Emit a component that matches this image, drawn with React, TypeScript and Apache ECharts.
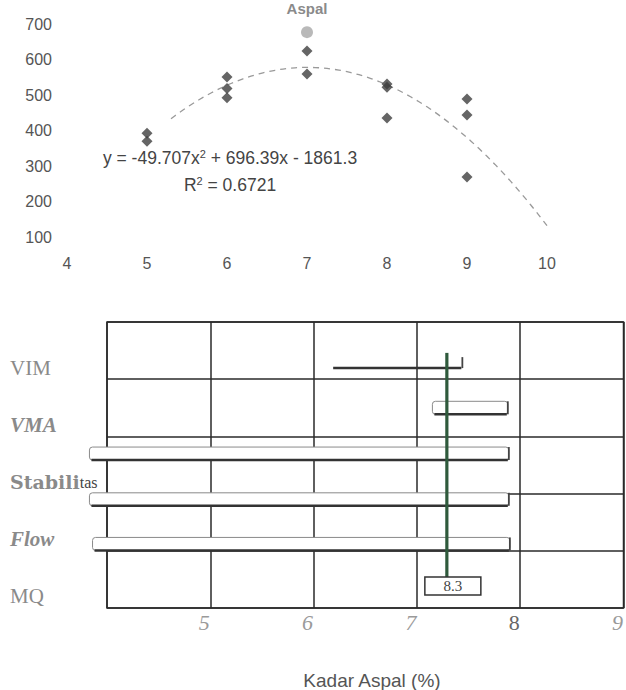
import React, { useEffect, useRef } from "react";
import * as echarts from "echarts";

// ---------- top chart data ----------
const scatterX = [5, 5, 6, 6, 6, 7, 7, 8, 8, 8, 9, 9, 9];
const scatterY = [392, 370, 551, 518, 492, 624, 559, 531, 522, 435, 489, 444, 269];
const outlierX = [7];
const outlierY = [677];
// polynomial trendline printed on the chart: y = a x^2 + b x + c
const trendCoef = [-49.707, 696.39, -1861.3];
const trendDomain = [5.3, 10];
const equationLines = ["y = -49.707x{sup|2} + 696.39x - 1861.3", "R{sup|2} = 0.6721"];
const titleText = "Aspal";

// ---------- bottom chart data ----------
const criteria = ["VIM", "VMA", "Stabilitas", "Flow", "MQ"];
const rangeStart = [6.17, 7.15, 3.83, 3.83, 3.86];
const rangeEnd = [7.44, 7.88, 7.89, 7.89, 7.9];
const rangeRow = [0.71, 1.5, 2.3, 3.1, 3.88];
const optimum = 7.29;
const optimumLabel = "8.3";
const bottomAxisName = "Kadar Aspal (%)";

const SANS = "'Liberation Sans', Arial, sans-serif";
const SERIF = "'Liberation Serif', 'Times New Roman', serif";

export default function App() {
  const ref = useRef<HTMLDivElement>(null);
  useEffect(() => {
    if (!ref.current) return;
    const chart = echarts.init(ref.current, null, { renderer: "svg" });

    const trend: number[][] = [];
    for (let x = trendDomain[0]; x <= trendDomain[1] + 1e-9; x += 0.05) {
      trend.push([x, trendCoef[0] * x * x + trendCoef[1] * x + trendCoef[2]]);
    }

    const labelFmt = (v: string) => {
      if (v === "VIM") return "{n|VIM}";
      if (v === "VMA") return "{bi|VMA}";
      if (v === "Stabilitas") return "{b|Stabili}{s|tas}";
      if (v === "Flow") return "{i|Flow}";
      return "{n|" + v + "}";
    };

    const option: any = {
      animation: false,
      backgroundColor: "#ffffff",
      grid: [
        { left: 67, width: 480, top: 24, height: 213 },
        { left: 107, width: 518, top: 322, height: 286, show: true, borderColor: "#2a2a2a", borderWidth: 1.5, backgroundColor: "transparent" },
      ],
      xAxis: [
        {
          gridIndex: 0, type: "value", min: 4, max: 10, interval: 1,
          axisLine: { show: false }, axisTick: { show: false }, splitLine: { show: false },
          axisLabel: { margin: 18, fontSize: 16, color: "#555", fontFamily: SANS },
        },
        {
          gridIndex: 1, type: "value", min: 4, max: 9, interval: 1,
          axisLine: { show: false }, axisTick: { show: false },
          splitLine: { show: true, lineStyle: { color: "#2a2a2a", width: 1.5 } },
          axisLabel: {
            margin: 3,
            padding: [0, 12, 0, 0],
            formatter: (v: number) => (v === 4 ? "" : v === 8 ? "{u|8}" : "{i|" + v + "}"),
            rich: {
              i: { fontFamily: SERIF, fontStyle: "italic", fontSize: 22, color: "#9a9a9a" },
              u: { fontFamily: SERIF, fontSize: 22, color: "#666" },
            },
          },
        },
      ],
      yAxis: [
        {
          gridIndex: 0, type: "value", min: 100, max: 700, interval: 100,
          axisLine: { show: false }, axisTick: { show: false }, splitLine: { show: false },
          axisLabel: { margin: 15, fontSize: 16, color: "#555", fontFamily: SANS },
        },
        {
          gridIndex: 1, type: "value", min: 0, max: 5, interval: 1, inverse: true,
          axisLine: { show: false }, axisTick: { show: false }, axisLabel: { show: false },
          splitLine: { show: true, lineStyle: { color: "#2a2a2a", width: 1.5 } },
        },
        {
          gridIndex: 1, type: "category", inverse: true, data: criteria, position: "left",
          axisLine: { show: false }, axisTick: { show: false }, splitLine: { show: false },
          axisLabel: {
            align: "left", margin: 97, padding: [34, 0, 0, 0], formatter: labelFmt,
            rich: {
              n: { fontFamily: SERIF, fontSize: 21, color: "#8a8a8a" },
              bi: { fontFamily: SERIF, fontSize: 21, fontStyle: "italic", fontWeight: "bold", color: "#8a8a8a" },
              b: { fontFamily: "'DejaVu Serif', serif", fontSize: 19, fontWeight: "bold", color: "#8a8a8a" },
              s: { fontFamily: SERIF, fontSize: 16, color: "#444" },
              i: { fontFamily: SERIF, fontSize: 21, fontStyle: "italic", fontWeight: "bold", color: "#8a8a8a" },
            },
          },
        },
      ],
      graphic: [
        {
          type: "text", x: 307, y: 1,
          style: { text: titleText, align: "center", verticalAlign: "top", font: "bold 15px " + SANS, fill: "#8a8a8a" },
        },
        {
          type: "text", x: 230, y: 158,
          style: {
            text: equationLines[0], align: "center", verticalAlign: "middle",
            font: "17.5px " + SANS, fill: "#444",
            rich: { sup: { fontSize: 11, fontFamily: SANS, fill: "#444", padding: [0, 0, 9, 0] } },
          },
        },
        {
          type: "text", x: 230, y: 185,
          style: {
            text: equationLines[1], align: "center", verticalAlign: "middle",
            font: "17.5px " + SANS, fill: "#444",
            rich: { sup: { fontSize: 11, fontFamily: SANS, fill: "#444", padding: [0, 0, 9, 0] } },
          },
        },
        {
          type: "text", x: 372, y: 680,
          style: { text: bottomAxisName, align: "center", verticalAlign: "middle", font: "19px " + SANS, fill: "#555" },
        },
      ],
      series: [
        {
          type: "line", xAxisIndex: 0, yAxisIndex: 0, data: trend, showSymbol: false, smooth: false,
          lineStyle: { color: "#9a9a9a", width: 1.3, type: [6, 5] }, z: 1,
        },
        {
          type: "scatter", xAxisIndex: 0, yAxisIndex: 0,
          data: scatterX.map((x, i) => [x, scatterY[i]]),
          symbol: "diamond", symbolSize: 11, itemStyle: { color: "#3f3f3f" }, z: 3,
        },
        {
          type: "scatter", xAxisIndex: 0, yAxisIndex: 0,
          data: outlierX.map((x, i) => [x, outlierY[i]]),
          symbol: "circle", symbolSize: 12, itemStyle: { color: "#a8a8a8" }, z: 3,
        },
        {
          type: "custom", xAxisIndex: 1, yAxisIndex: 1, clip: false, z: 5,
          data: rangeStart.map((s, i) => [s, rangeEnd[i], rangeRow[i]]),
          encode: { x: [0, 1], y: 2 },
          renderItem: (params: any, api: any) => {
            const s = api.coord([api.value(0), api.value(2)]);
            const e = api.coord([api.value(1), api.value(2)]);
            const h = criteria[params.dataIndex] === "VIM" ? 11 : 13;
            const x0 = s[0];
            const x1 = e[0];
            const top = s[1] - h / 2;
            const bot = s[1] + h / 2;
            const lineOnly = criteria[params.dataIndex] === "VIM";
            const children: any[] = [];
            if (!lineOnly) {
              children.push({
                type: "rect",
                shape: { x: x0, y: top, width: x1 - x0, height: h, r: 3 },
                style: { fill: "#ffffff", stroke: "#8a8a8a", lineWidth: 1 },
              });
            }
            children.push({
              type: "line",
              shape: { x1: x0 + 2, y1: bot, x2: x1 - 1, y2: bot },
              style: { stroke: "#333", lineWidth: 2.5 },
            });
            children.push({
              type: "line",
              shape: { x1: x1, y1: top, x2: x1, y2: bot },
              style: { stroke: "#444", lineWidth: 1.8 },
            });
            return { type: "group", children };
          },
        },
        {
          type: "custom", xAxisIndex: 1, yAxisIndex: 1, clip: false, z: 6,
          data: [[optimum, 0]],
          encode: { x: 0, y: 1 },
          renderItem: (params: any, api: any) => {
            const t = api.coord([api.value(0), 0.54]);
            const b = api.coord([api.value(0), 4.46]);
            const bx = b[0];
            return {
              type: "group",
              children: [
                { type: "line", shape: { x1: bx, y1: t[1], x2: bx, y2: b[1] }, style: { stroke: "#2f5a3c", lineWidth: 3.2 } },
                {
                  type: "rect", shape: { x: bx - 22, y: b[1], width: 56, height: 18 },
                  style: { fill: "#ffffff", stroke: "#333", lineWidth: 1.5 },
                },
                {
                  type: "text", x: bx + 6, y: b[1] + 9,
                  style: { text: optimumLabel, align: "center", verticalAlign: "middle", font: "15px " + SERIF, fill: "#444" },
                },
              ],
            };
          },
        },
      ],
    };

    chart.setOption(option);
    return () => chart.dispose();
  }, []);

  return <div ref={ref} style={{ position: "absolute", left: 0, top: 0, width: 626, height: 690 }} />;
}
